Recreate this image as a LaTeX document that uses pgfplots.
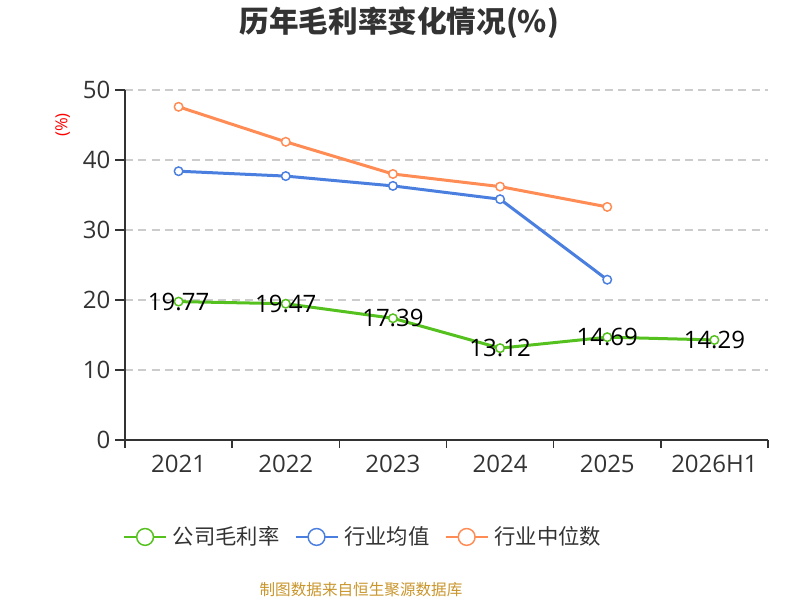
\documentclass[border=0pt]{standalone}
\usepackage{pgfplots}
\pgfplotsset{compat=1.18}
\usepackage{fontspec}
\setmainfont{Open Sans}
\newfontfamily\cjk{Noto Sans CJK SC}
\definecolor{txt}{HTML}{333333}
\definecolor{gridc}{HTML}{CCCCCC}
\definecolor{cgreen}{HTML}{55C11E}
\definecolor{cblue}{HTML}{4A7FE0}
\definecolor{corange}{HTML}{FF8C55}
\definecolor{gold}{HTML}{C9962E}
\begin{document}
\begin{tikzpicture}
\path[use as bounding box] (0,0) rectangle (600pt,450pt);
\begin{axis}[
  at={(93.75pt,120pt)}, anchor=south west,
  scale only axis, width=482.25pt, height=262.5pt,
  xmin=-0.5, xmax=5.5, ymin=0, ymax=50,
  axis lines=left,
  axis line style={-, line width=1.1pt, draw=txt},
  /pgf/number format/assume math mode=true,
  xtick={0,1,2,3,4,5},
  xticklabels={2021,2022,2023,2024,2025,2026H1},
  minor xtick={-0.5,0.5,1.5,2.5,3.5,4.5,5.5},
  major x tick style={draw=none},
  minor x tick style={line width=1.1pt, draw=txt},
  minor tick length=6pt,
  major tick length=7.5pt,
  tick align=outside,
  y tick style={line width=1.1pt, draw=txt},
  ytick={0,10,20,30,40,50},
  ymajorgrids,
  major grid style={draw=gridc, line width=1.1pt, dash pattern=on 6pt off 4pt},
  tick label style={font=\fontsize{18}{18}\selectfont, text=txt},
  clip=false,
  legend style={at={(axis description cs:0.371,-0.277)}, anchor=center, draw=none,
    fill=none, font=\cjk\fontsize{16}{16}\selectfont, text=txt,
    legend columns=3,
    /tikz/every odd column/.append style={column sep=2.5pt},
    /tikz/every even column/.append style={column sep=9.5pt}},
  legend image code/.code={
    \draw[line width=1.1pt] (0pt,0pt)--(31.5pt,0pt);
    \draw[line width=1.1pt, fill=white] (15.75pt,0pt) circle (6.3pt);
  },
]
\addplot[cgreen, line width=2.25pt, mark=*, mark size=3.2pt,
  mark options={fill=white, draw=cgreen, line width=1.1pt},
  nodes near coords, point meta=y,
  nodes near coords style={anchor=center, text=black, font=\fontsize{18}{18}\selectfont,
    /pgf/number format/.cd, fixed, fixed zerofill, precision=2}]
  coordinates {(0,19.77) (1,19.47) (2,17.39) (3,13.12) (4,14.69) (5,14.29)};
\addlegendentry{公司毛利率}
\addplot[cblue, line width=2.25pt, mark=*, mark size=3.2pt,
  mark options={fill=white, draw=cblue, line width=1.1pt}]
  coordinates {(0,38.4) (1,37.7) (2,36.3) (3,34.4) (4,22.9)};
\addlegendentry{行业均值}
\addplot[corange, line width=2.25pt, mark=*, mark size=3.2pt,
  mark options={fill=white, draw=corange, line width=1.1pt}]
  coordinates {(0,47.6) (1,42.6) (2,38.0) (3,36.2) (4,33.3)};
\addlegendentry{行业中位数}
\end{axis}
\node[text=txt] at (299.5pt,432.75pt) {\cjk\bfseries\fontsize{22.2}{22.2}\selectfont 历年毛利率变化情况(\%)};
\node[rotate=90, text=red] at (47pt,356.25pt) {\fontsize{12.5}{12.5}\selectfont (\%)};
\node[text=gold] at (270.75pt,7.5pt) {\cjk\fontsize{11.7}{11.7}\selectfont 制图数据来自恒生聚源数据库};
\end{tikzpicture}
\end{document}
